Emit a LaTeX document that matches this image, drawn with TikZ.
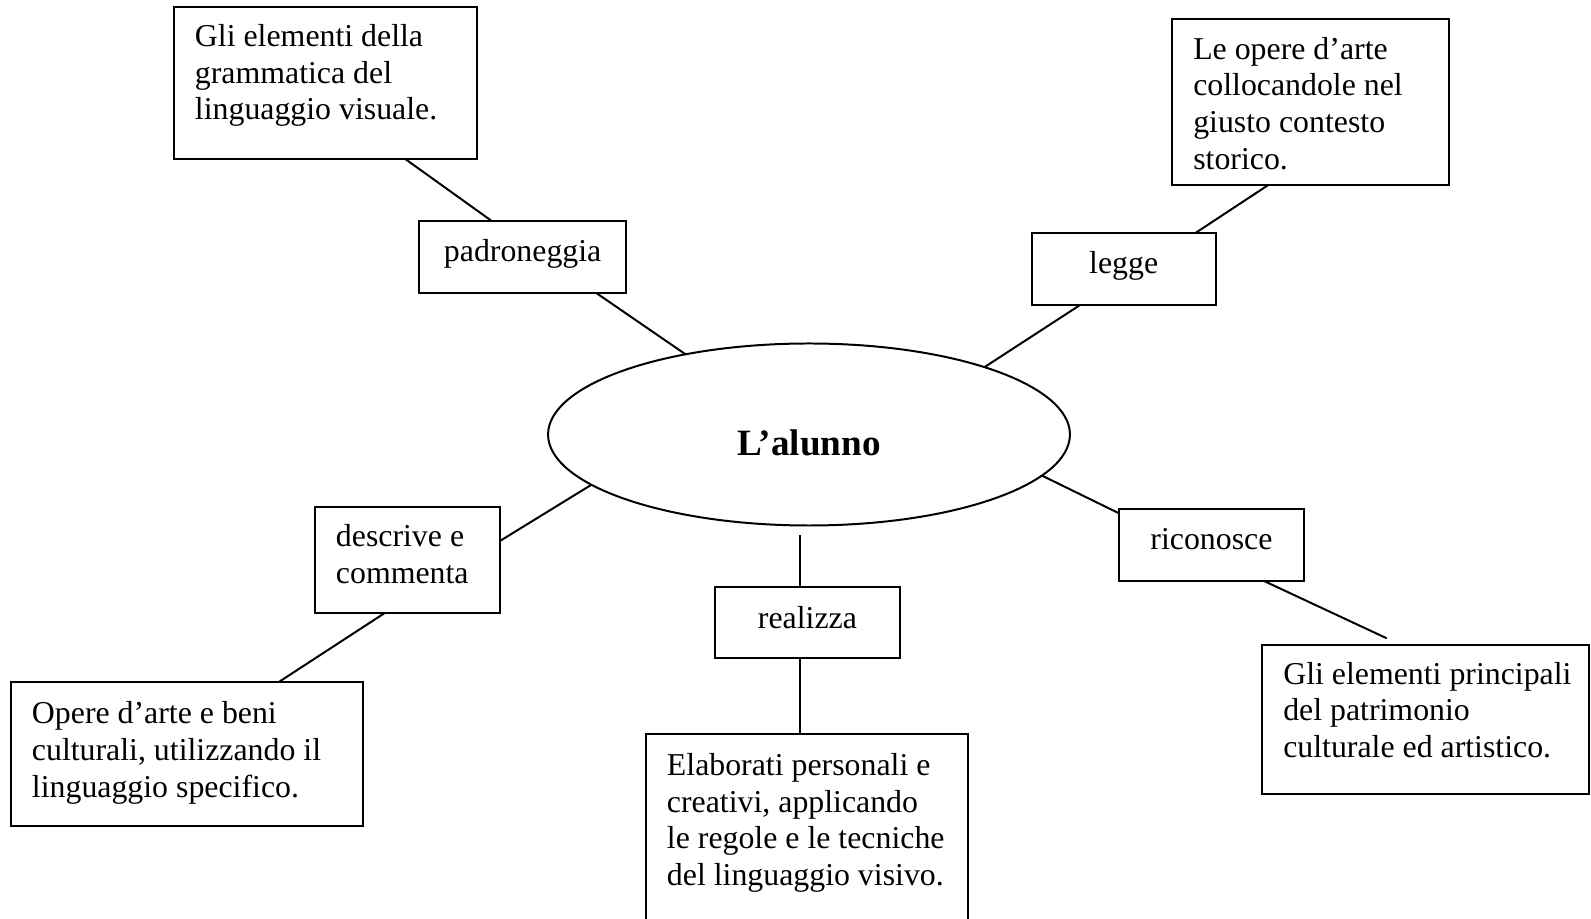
\documentclass[tikz,border=0pt]{standalone}
\usepackage{fontspec}
\setmainfont{Liberation Serif}
\usetikzlibrary{shapes.geometric}
% #1 width, #2 height, #3 first baseline below top, #4 text
\newcommand{\lbox}[4]{\parbox[c][#2][t]{#1}{\raggedright\leftskip=7.9pt\relax\rule{0pt}{#3}#4}}
\newcommand{\cbox}[4]{\parbox[c][#2][t]{#1}{\centering\rule{0pt}{#3}#4}}
\begin{document}
\begin{tikzpicture}[x=0.3769pt,y=-0.3769pt,
  font=\fontsize{12pt}{13.8pt}\selectfont,
  tb/.style={draw, rectangle, line width=0.75pt, inner sep=0pt, outer sep=0pt, anchor=north west},
  conn/.style={line width=0.75pt}]
\useasboundingbox (0,0) rectangle (1591,919);
\fill[white] (0,0) rectangle (1591,919);
\clip (0,0) rectangle (1591,919);

% central ellipse
\node[draw, ellipse, line width=0.75pt, minimum width=196.7pt, minimum height=68.6pt,
      inner sep=0pt, outer sep=0pt, text height=15.5pt, text depth=0pt,
      font=\fontsize{14pt}{16pt}\selectfont\bfseries] (E) at (809,434.5) {L’alunno};

% boxes
\node[tb] (gram) at (174,7.3) {\lbox{114.1pt}{57.3pt}{14.85pt}{Gli elementi della\\grammatica del\\linguaggio visuale.}};
\node[tb] (pad) at (419.3,221) {\cbox{77.9pt}{27.25pt}{15.34pt}{padroneggia}};
\node[tb] (arte) at (1172.3,19.3) {\lbox{104.2pt}{62.45pt}{15.08pt}{Le opere d’arte\\collocandole nel\\giusto contesto\\storico.}};
\node[tb] (legge) at (1031.7,233.3) {\cbox{69.35pt}{27.0pt}{15.08pt}{legge}};
\node[tb] (descr) at (315,507.3) {\lbox{69.7pt}{39.95pt}{14.85pt}{descrive e\\commenta}};
\node[tb] (beni) at (11,681.7) {\lbox{132.6pt}{54.3pt}{15.94pt}{Opere d’arte e beni\\culturali, utilizzando il\\linguaggio specifico.}};
\node[tb] (real) at (715,586.7) {\cbox{69.7pt}{27pt}{15.94pt}{realizza}};
\node[tb] (elab) at (646,734) {\lbox{121.5pt}{85.2pt}{15.6pt}{Elaborati personali e\\creativi, applicando\\le regole e le tecniche\\del linguaggio visivo.}};
\node[tb] (ricon) at (1119,509.3) {\cbox{69.7pt}{26.9pt}{15.34pt}{riconosce}};
\node[tb] (gli) at (1262.3,645) {\lbox{123.3pt}{56.2pt}{14.8pt}{Gli elementi principali\\del patrimonio\\culturale ed artistico.}};

% connectors
\coordinate (Ebot) at (800,535);
\coordinate (gliend) at (1386.7,638.3);
\draw[conn] (405.7,0 |- gram.south) -- (491.7,0 |- pad.north);
\draw[conn] (596.7,0 |- pad.south) -- (E.147);
\draw[conn] (E.21) -- (1080.2,0 |- legge.south);
\draw[conn] (1195,0 |- legge.north) -- (1268.3,0 |- arte.south);
\draw[conn] (E.193) -- (descr.east |- 0,541);
\draw[conn] (384.3,0 |- descr.south) -- (279.3,0 |- beni.north);
\draw[conn] (Ebot) -- (real.north -| Ebot);
\draw[conn] (real.south -| Ebot) -- (elab.north -| Ebot);
\draw[conn] (E.350) -- (ricon.west |- 0,513.3);
\draw[conn] (1263.3,0 |- ricon.south) -- (gliend);
\end{tikzpicture}
\end{document}
